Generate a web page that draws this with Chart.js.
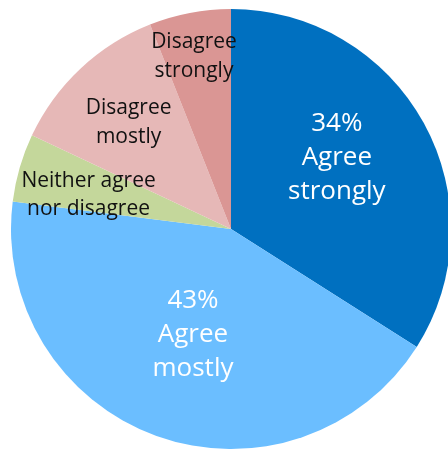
<!DOCTYPE html>
<html>
<head>
<meta charset="utf-8">
<script src="https://cdn.jsdelivr.net/npm/chart.js@4/dist/chart.umd.min.js"></script>
<style>
  html, body { margin: 0; padding: 0; background: #fff; overflow: hidden; }
  #wrap { position: absolute; left: 0; top: 0; width: 462px; height: 458px; }
</style>
</head>
<body>
<div id="wrap"><canvas id="pieChart" width="462" height="458"></canvas></div>
<script>
// data
const categories = ["Agree strongly", "Agree mostly", "Neither agree nor disagree", "Disagree mostly", "Disagree strongly"];
const values = [34, 43, 5, 12, 6];
const labelLines = [
    ["Agree", "strongly"],
    ["Agree", "mostly"],
    ["Neither agree", "nor disagree"],
    ["Disagree", "mostly"],
    ["Disagree", "strongly"],
];
const showPercent = [true, true, false, false, false];

// label style per slice (white big text on blues, dark text on the rest)
const labelStyle = [
    { color: "#ffffff", size: 26, lineH: 34, r: 0.58, dx: -6, dy: -10 },
    { color: "#ffffff", size: 26, lineH: 34, r: 0.51, dx: 0, dy: 0 },
    { color: "#111111", size: 21, lineH: 28, r: 0.66, dx: -3, dy: 7 },
    { color: "#111111", size: 21, lineH: 29, r: 0.68, dx: 0, dy: 3 },
    { color: "#111111", size: 21, lineH: 29, r: 0.80, dx: -4, dy: 0 },
];

const sliceLabels = {
    id: "sliceLabels",
    afterDatasetsDraw(chart) {
        const ctx = chart.ctx;
        const meta = chart.getDatasetMeta(0);
        const total = values.reduce((a, b) => a + b, 0);
        meta.data.forEach((arc, i) => {
            const p = arc.getProps(["x", "y", "startAngle", "endAngle", "outerRadius"], true);
            const mid = (p.startAngle + p.endAngle) / 2;
            const st = labelStyle[i];
            const cx = p.x + Math.cos(mid) * p.outerRadius * st.r + st.dx;
            const cy = p.y + Math.sin(mid) * p.outerRadius * st.r + st.dy;
            let lines = labelLines[i].slice();
            if (showPercent[i]) lines.unshift(Math.round(values[i] / total * 100) + "%");
            ctx.save();
            ctx.fillStyle = st.color;
            ctx.font = st.size + "px 'Open Sans', sans-serif";
            ctx.textAlign = "center";
            ctx.textBaseline = "middle";
            const top = cy - (lines.length - 1) * st.lineH / 2;
            lines.forEach((t, k) => ctx.fillText(t, cx, top + k * st.lineH));
            ctx.restore();
        });
    },
};

new Chart(document.getElementById("pieChart"), {
    type: "pie",
    data: {
        labels: categories,
        datasets: [
            {
                data: values,
                backgroundColor: ["#0070C0", "#6BBEFF", "#C4D79B", "#E6B8B7", "#DA9694"],
                borderWidth: 0,
            },
        ],
    },
    options: {
        responsive: false,
        animation: false,
        devicePixelRatio: 1,
        layout: { padding: { top: 9, bottom: 9, left: 0, right: 0 } },
        plugins: {
            legend: { display: false },
            tooltip: { enabled: false },
        },
    },
    plugins: [sliceLabels],
});
</script>
</body>
</html>
